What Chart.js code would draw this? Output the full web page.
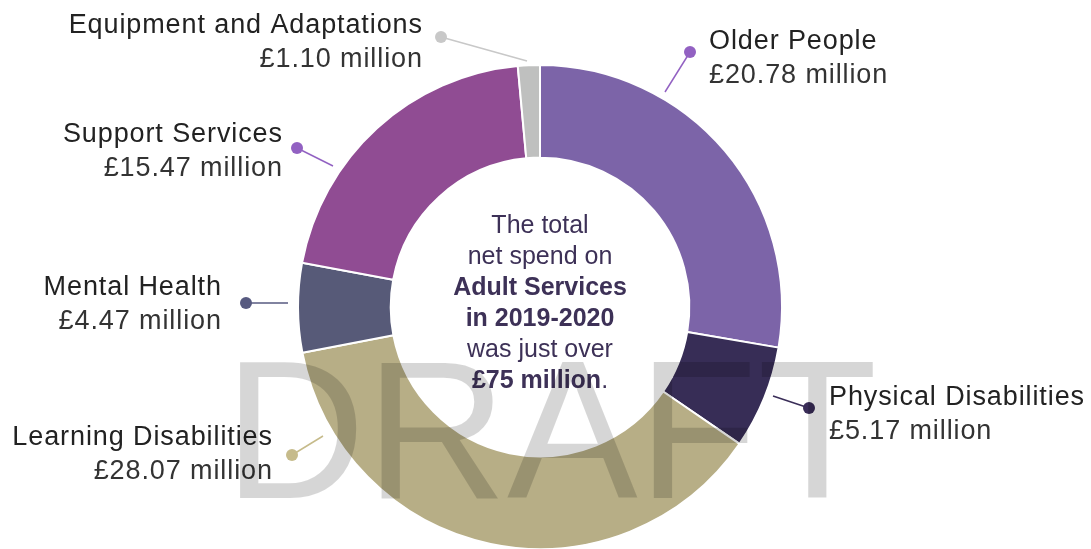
<!DOCTYPE html>
<html>
<head>
<meta charset="utf-8">
<script src="https://cdn.jsdelivr.net/npm/chart.js@4/dist/chart.umd.min.js"></script>
<style>
  html, body { margin: 0; padding: 0; background: #fff; overflow: hidden; }
  #wrap { position: absolute; left: 0; top: 0; width: 1091px; height: 614px; }
</style>
</head>
<body>
<div id="wrap"><canvas id="spend"></canvas></div>
<script>
  /* Adult services net spend 2019-2020, £ million */
  const services = ['Older People', 'Physical Disabilities', 'Learning Disabilities', 'Mental Health', 'Support Services', 'Equipment and Adaptations'];
  const spend = [20.78, 5.17, 28.07, 4.47, 15.47, 1.10];
  const sliceColours = ['#7c64a8', '#372d56', '#b7ae86', '#575a78', '#904c93', '#bfc0bf'];
  const dotColours = ['#9261c2', '#3a2d58', '#c6bb8b', '#575a80', '#9261c2', '#c8c8c8'];

  // where each label sits: text anchor, dot, and end of the leader line
  const labelLayout = [
    { x: 709, y: 49, align: 'left', dot: [690, 52], end: [665, 92] },
    { x: 829, y: 405, align: 'left', dot: [809, 408], end: [773, 396] },
    { x: 272, y: 445, align: 'right', dot: [292, 455], end: [323, 436] },
    { x: 221, y: 295, align: 'right', dot: [246, 303], end: [288, 303] },
    { x: 282, y: 142, align: 'right', dot: [297, 148], end: [333, 166] },
    { x: 422, y: 33, align: 'right', dot: [441, 37], end: [527, 61] }
  ];

  const fmt = v => '£' + v.toFixed(2) + ' million';
  const spacing = 0.9;

  const labelsPlugin = {
    id: 'sliceLabels',
    afterDatasetsDraw(chart) {
      const ctx = chart.ctx;
      ctx.save();
      labelLayout.forEach((l, i) => {
        ctx.strokeStyle = dotColours[i];
        ctx.lineWidth = 1.5;
        ctx.beginPath();
        ctx.moveTo(l.dot[0], l.dot[1]);
        ctx.lineTo(l.end[0], l.end[1]);
        ctx.stroke();
        ctx.fillStyle = dotColours[i];
        ctx.beginPath();
        ctx.arc(l.dot[0], l.dot[1], 6, 0, Math.PI * 2);
        ctx.fill();

        ctx.textAlign = l.align;
        ctx.textBaseline = 'alphabetic';
        ctx.letterSpacing = spacing + 'px';
        // right-aligned text carries a trailing gap from the spacing
        const x = l.align === 'right' ? l.x + spacing : l.x;
        ctx.fillStyle = '#222';
        ctx.font = '27px "Liberation Sans", Arial, sans-serif';
        ctx.fillText(services[i], x, l.y);
        ctx.fillStyle = '#333';
        ctx.fillText(fmt(spend[i]), x, l.y + 34);
      });
      ctx.restore();
    }
  };

  // total spend message in the hole of the ring
  const centreLines = [
    [['The total', false]],
    [['net spend on', false]],
    [['Adult Services', true]],
    [['in 2019-2020', true]],
    [['was just over', false]],
    [['£75 million', true], ['.', false]]
  ];

  const centrePlugin = {
    id: 'centreText',
    afterDatasetsDraw(chart) {
      const ctx = chart.ctx;
      const arc = chart.getDatasetMeta(0).data[0];
      const cx = arc.x;
      ctx.save();
      ctx.fillStyle = '#3d3157';
      ctx.textBaseline = 'alphabetic';
      ctx.textAlign = 'left';
      const fontFor = b => (b ? 'bold ' : '') + '25px "Liberation Sans", Arial, sans-serif';
      let y = 233;
      centreLines.forEach(parts => {
        let w = 0;
        parts.forEach(p => { ctx.font = fontFor(p[1]); w += ctx.measureText(p[0]).width; });
        let x = cx - w / 2;
        parts.forEach(p => {
          ctx.font = fontFor(p[1]);
          ctx.fillText(p[0], x, y);
          x += ctx.measureText(p[0]).width;
        });
        y += 31;
      });
      ctx.restore();
    }
  };

  const draftPlugin = {
    id: 'draftMark',
    afterDraw(chart) {
      const ctx = chart.ctx;
      ctx.save();
      ctx.fillStyle = 'rgba(0,0,0,0.16)';
      ctx.font = '196px "Liberation Sans", Arial, sans-serif';
      ctx.textAlign = 'left';
      ctx.textBaseline = 'alphabetic';
      ctx.fillText('DRAFT', 224, 498);
      ctx.restore();
    }
  };

  new Chart(document.getElementById('spend'), {
    type: 'doughnut',
    data: {
      labels: services,
      datasets: [{
        data: spend,
        backgroundColor: sliceColours,
        borderColor: '#fff',
        borderWidth: 2
      }]
    },
    options: {
      responsive: true,
      maintainAspectRatio: false,
      animation: false,
      cutout: '61.7%',
      layout: { padding: { left: 297, right: 308, top: 64, bottom: 64 } },
      plugins: {
        legend: { display: false },
        tooltip: { enabled: false }
      }
    },
    plugins: [labelsPlugin, centrePlugin, draftPlugin]
  });
</script>
</body>
</html>
